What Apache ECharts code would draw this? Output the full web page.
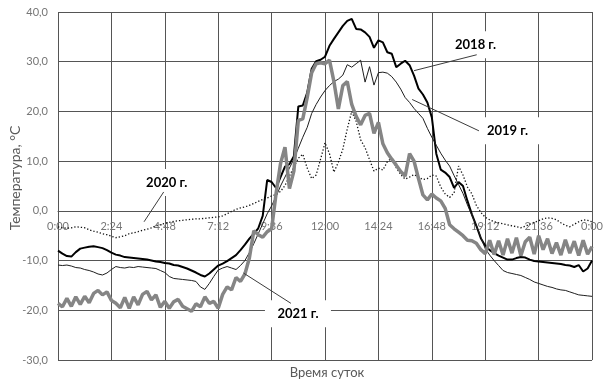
<!DOCTYPE html>
<html>
<head>
<meta charset="utf-8">
<script src="https://cdn.jsdelivr.net/npm/echarts@6/dist/echarts.min.js"></script>
<style>
html,body{margin:0;padding:0;background:#fff}
#chart{width:606px;height:381px}
</style>
</head>
<body>
<div id="chart"></div>
<script>
// Sample times, minutes since midnight (12-minute step)
const times = [0,12,24,36,48,60,72,84,96,108,120,132,144,156,168,180,192,204,216,228,240,252,264,276,288,300,312,324,336,348,360,372,384,396,408,420,432,444,456,468,480,492,504,516,528,540,552,564,576,588,600,612,624,636,648,660,672,684,696,708,720,732,744,756,768,780,792,804,816,828,840,852,864,876,888,900,912,924,936,948,960,972,984,996,1008,1020,1032,1044,1056,1068,1080,1092,1104,1116,1128,1140,1152,1164,1176,1188,1200,1212,1224,1236,1248,1260,1272,1284,1296,1308,1320,1332,1344,1356,1368,1380,1392,1404,1416,1428,1440];

// Tick labels of the time axis (every 2 h 24 min)
const timeTicks = ['0:00','2:24','4:48','7:12','9:36','12:00','14:24','16:48','19:12','21:36','0:00'];

const seriesNames = ['2018 г.','2019 г.','2020 г.','2021 г.'];

// Temperature, °C
const temp2018 = [
-8.0,-8.6,-9.1,-9.2,-8.3,-7.6,-7.4,-7.2,-7.1,-7.3,
-7.5,-7.9,-8.4,-8.8,-9.0,-9.3,-9.4,-9.5,-9.6,-9.7,
-9.8,-10.0,-10.2,-10.3,-10.5,-10.6,-10.9,-11.0,-11.3,-11.6,
-12.0,-12.4,-12.9,-13.2,-12.6,-11.8,-11.0,-10.6,-10.1,-9.5,
-8.9,-7.9,-6.8,-5.6,-4.6,-3.5,-1.0,6.2,5.8,4.6,
6.8,8.9,9.4,11.0,21.0,21.2,23.8,28.6,30.1,30.4,
31.0,33.2,34.6,35.9,37.2,38.2,38.6,36.6,36.5,35.9,
35.0,32.8,34.3,33.9,31.9,31.6,28.9,29.6,30.2,29.3,
27.2,24.6,23.4,21.8,18.8,11.5,8.3,7.7,6.8,4.6,
5.8,5.0,2.0,-0.7,-3.0,-5.5,-7.0,-7.9,-8.5,-9.0,
-9.4,-9.8,-9.8,-9.5,-9.3,-9.4,-9.8,-10.1,-10.2,-10.3,
-10.4,-10.5,-10.6,-10.7,-10.9,-11.0,-11.3,-10.9,-12.2,-11.6,
-10.0];

const temp2019 = [
-10.9,-11.0,-10.9,-11.1,-11.4,-11.5,-11.8,-12.0,-12.3,-12.7,
-12.9,-12.5,-11.8,-11.2,-11.4,-11.5,-11.3,-11.4,-11.2,-11.3,
-11.4,-11.5,-11.6,-12.0,-12.4,-13.2,-13.6,-13.7,-13.8,-13.9,
-14.0,-14.2,-15.3,-15.8,-14.6,-13.2,-11.9,-11.5,-11.2,-11.5,
-11.8,-11.0,-10.0,-8.4,-6.6,-4.6,-2.6,-0.6,1.0,2.9,
5.0,6.8,8.6,10.4,12.6,14.8,16.8,19.6,21.4,22.9,
24.2,25.2,26.0,26.5,27.3,29.4,28.9,29.6,30.3,25.9,
29.0,25.3,27.8,27.9,27.7,27.0,25.9,24.5,22.8,21.8,
20.6,19.6,18.6,16.6,14.8,13.2,11.6,10.2,9.0,7.1,
5.3,3.5,1.2,-0.9,-2.9,-5.3,-7.6,-8.9,-10.0,-11.0,
-12.0,-12.4,-12.6,-12.8,-13.0,-13.4,-13.8,-14.3,-14.6,-14.9,
-15.2,-15.4,-15.7,-15.9,-16.0,-16.3,-16.6,-16.9,-17.0,-17.1,
-17.2];

const temp2020 = [
-3.2,-3.4,-3.5,-3.4,-3.2,-3.3,-3.4,-3.8,-4.1,-4.3,
-4.6,-4.8,-5.1,-5.4,-5.2,-5.0,-4.6,-4.4,-4.2,-3.9,
-3.7,-3.4,-3.0,-2.8,-2.5,-2.3,-2.1,-2.0,-1.9,-1.8,
-1.7,-1.6,-1.6,-1.5,-1.4,-1.3,-1.2,-1.0,-0.6,-0.1,
0.3,0.6,0.8,1.1,1.5,1.9,2.3,2.6,3.0,3.3,
3.9,5.1,7.0,8.8,10.6,11.4,8.6,6.5,7.2,10.4,
13.7,11.5,7.8,9.8,12.4,16.5,20.0,18.0,14.3,12.7,
10.3,8.0,8.6,8.2,9.9,10.6,8.7,7.3,6.4,6.8,
7.3,6.8,6.3,6.5,7.2,7.0,4.8,3.4,2.7,3.6,
9.0,7.2,4.8,3.4,1.1,-0.3,-1.3,-1.8,-2.2,-2.4,
-2.6,-2.8,-3.0,-3.2,-3.4,-3.1,-2.7,-2.3,-2.0,-1.6,
-1.4,-1.5,-1.8,-2.4,-2.9,-3.2,-2.7,-2.2,-1.8,-1.9,
-2.2];

const temp2021 = [
-18.6,-19.3,-17.6,-19.2,-17.3,-18.8,-17.2,-18.5,-16.6,-16.0,
-16.9,-16.3,-18.0,-18.6,-19.5,-17.4,-19.6,-17.3,-18.9,-16.8,
-16.2,-17.9,-16.9,-19.4,-18.2,-19.6,-18.3,-17.8,-19.2,-19.7,
-20.2,-18.7,-19.3,-17.3,-18.6,-18.2,-19.6,-16.8,-15.3,-15.9,
-13.4,-14.2,-12.7,-9.5,-4.0,-4.8,-5.3,-4.2,-3.6,3.5,
9.5,12.8,4.5,8.0,18.2,18.5,22.8,27.8,29.6,29.8,
29.6,30.3,26.0,20.5,25.2,26.0,21.4,19.0,17.3,19.2,
19.6,15.6,17.8,13.5,11.7,10.4,9.2,7.9,7.0,11.5,
10.0,6.5,3.2,2.2,3.4,2.6,2.0,0.5,-2.8,-3.6,
-4.3,-5.0,-5.9,-6.0,-6.5,-7.8,-8.6,-5.9,-8.8,-6.0,
-8.9,-5.6,-8.5,-5.4,-9.0,-6.2,-5.3,-8.7,-5.0,-7.8,
-5.6,-8.6,-6.4,-8.9,-5.8,-8.5,-6.1,-9.0,-5.9,-8.7,
-7.2];

// Callouts in data coordinates [minutes, °C]: label centre and leader line ends
const callouts = [
  {label:[1126, 33.4], from:[960, 28.2], to:[1129, 31.4]},
  {label:[1212, 16.1], from:[955, 22.4], to:[1135, 16.1]},
  {label:[293, 5.7],   from:[285, 3.8],  to:[232, -2.2]},
  {label:[647, -20.7], from:[628, -18.6], to:[500, -12.5]}
];

const lineStyles = [
  {color:'#000000', width:2},
  {color:'#1e1e1e', width:1},
  {color:'#111111', width:1.3, type:[1.3, 2]},
  {color:'#858585', width:3.5}
];

const gridColor = '#555555';
const tickColor = '#767676';
const font = 'Lato, "Liberation Sans", sans-serif';

// plot geometry: the time labels sit just under the 0 °C line
const plotTop = 12, plotBottom = 21, plotHeight = 381 - plotTop - plotBottom;
const yMin = -30, yMax = 40;
const zeroOffset = -plotHeight * (0 - yMin) / (yMax - yMin);

const series = seriesNames.map((name, i) => {
  const vals = [temp2018, temp2019, temp2020, temp2021][i];
  const c = callouts[i];
  return {
    name,
    type: 'line',
    data: times.map((t, k) => [t, vals[k]]),
    showSymbol: false,
    symbol: 'none',
    animation: false,
    lineStyle: lineStyles[i],
    z: 2 + i * 0.1,
    markPoint: {
      z: 5,
      silent: true,
      animation: false,
      symbol: 'rect',
      symbolSize: [66, 27],
      itemStyle: {color: '#ffffff'},
      label: {
        show: true, position: 'inside', color: '#000',
        fontWeight: 'bold', fontSize: 13, fontFamily: font,
        formatter: name
      },
      data: [{coord: c.label, name}]
    },
    markLine: {
      z: 6,
      silent: true,
      animation: false,
      symbol: ['none', 'none'],
      label: {show: false},
      lineStyle: {color: '#3c3c3c', width: 1, type: 'solid'},
      data: [[{coord: c.from}, {coord: c.to}]]
    }
  };
});

const chart = echarts.init(document.getElementById('chart'), null, {renderer: 'canvas'});
chart.setOption({
  backgroundColor: '#ffffff',
  animation: false,
  grid: {left: 58, right: 10, top: plotTop, bottom: plotBottom, containLabel: false},
  xAxis: {
    type: 'value', min: 0, max: 1440, interval: 144,
    position: 'bottom',
    offset: zeroOffset,
    axisLine: {show: true, onZero: false, lineStyle: {color: gridColor, width: 1}},
    axisTick: {show: false},
    axisLabel: {
      color: tickColor, fontSize: 11, fontFamily: font, margin: 10,
      formatter: v => timeTicks[Math.round(v / 144)]
    },
    splitLine: {show: true, lineStyle: {color: gridColor, width: 1}}
  },
  yAxis: {
    type: 'value', min: yMin, max: yMax, interval: 10,
    axisLine: {show: false},
    axisTick: {show: false},
    axisLabel: {
      color: tickColor, fontSize: 11, fontFamily: font, margin: 10,
      formatter: v => v.toFixed(1).replace('.', ',')
    },
    splitLine: {show: true, lineStyle: {color: gridColor, width: 1}}
  },
  graphic: [
    {
      type: 'text', x: 327, y: 373, silent: true,
      style: {text: 'Время суток', fill: '#595959', fontSize: 13, fontFamily: font,
              align: 'center', verticalAlign: 'middle'}
    },
    {
      type: 'text', x: 15, y: 178, rotation: Math.PI / 2, silent: true,
      style: {text: 'Температура, °С', fill: '#595959', fontSize: 14, fontFamily: font,
              align: 'center', verticalAlign: 'middle'}
    }
  ],
  series
});
</script>
</body>
</html>
